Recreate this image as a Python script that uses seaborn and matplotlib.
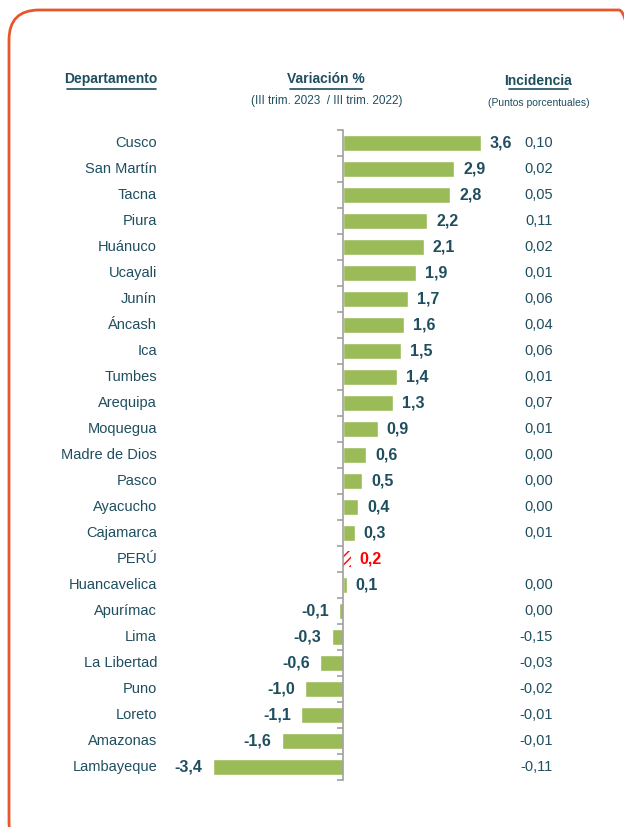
import pandas as pd
import seaborn as sns
import matplotlib.pyplot as plt
import matplotlib.patches as mpatches
import matplotlib.transforms as mtransforms

departamentos = ["Cusco", "San Martín", "Tacna", "Piura", "Huánuco", "Ucayali", "Junín",
                 "Áncash", "Ica", "Tumbes", "Arequipa", "Moquegua", "Madre de Dios", "Pasco",
                 "Ayacucho", "Cajamarca", "PERÚ", "Huancavelica", "Apurímac", "Lima",
                 "La Libertad", "Puno", "Loreto", "Amazonas", "Lambayeque"]
variacion = [3.6, 2.9, 2.8, 2.2, 2.1, 1.9, 1.7, 1.6, 1.5, 1.4, 1.3, 0.9, 0.6, 0.5,
             0.4, 0.3, 0.2, 0.1, -0.1, -0.3, -0.6, -1.0, -1.1, -1.6, -3.4]
incidencia = ["0,10", "0,02", "0,05", "0,11", "0,02", "0,01", "0,06", "0,04", "0,06", "0,01",
              "0,07", "0,01", "0,00", "0,00", "0,00", "0,01", "", "0,00", "0,00", "-0,15",
              "-0,03", "-0,02", "-0,01", "-0,01", "-0,11"]

df = pd.DataFrame({"dep": departamentos, "var": variacion})

sns.set_style("white")
plt.rcParams["font.family"] = ["Liberation Sans", "DejaVu Sans"]

teal = "#1f4e5f"
green = "#9bbb59"

fig = plt.figure(figsize=(6.24, 8.27), dpi=100)
ax = fig.add_axes([159 / 624, 1 - 780 / 827, (573 - 159) / 624, 650 / 827])

sns.barplot(data=df, y="dep", x="var", orient="h", color=green, width=0.62,
            saturation=1, ax=ax)

# PERÚ bar: red hatch
peru = departamentos.index("PERÚ")
p = ax.patches[peru]
p.set_facecolor("white")
p.set_edgecolor("red")
p.set_hatch("////")
p.set_linewidth(0)

ax.set_xlim(-4.8, 6.0)
ax.set_ylim(len(departamentos) - 0.5, -0.5)
ax.set_xlabel("")
ax.set_ylabel("")
ax.set_xticks([])
for s in ["top", "right", "bottom"]:
    ax.spines[s].set_visible(False)
ax.spines["left"].set_position(("data", 0))
ax.spines["left"].set_color("#a0a0a0")
ax.spines["left"].set_linewidth(1.2)
ax.set_yticks([i - 0.5 for i in range(len(departamentos) + 1)])
ax.set_yticklabels([])
ax.tick_params(axis="y", left=True, direction="out", length=4, color="#a0a0a0", width=1.2)

px = 1 / 38.3  # data units per pixel
fig_y = mtransforms.blended_transform_factory(fig.transFigure, ax.transData)

for i, (d, v, inc) in enumerate(zip(departamentos, variacion, incidencia)):
    col = "red" if d == "PERÚ" else teal
    ax.text(157 / 624, i, d, transform=fig_y, ha="right", va="center",
            fontsize=10.5, color=teal)
    lab = f"{v:.1f}".replace(".", ",")
    if v >= 0:
        ax.text(v + 9 * px, i, lab, ha="left", va="center", fontsize=11.5,
                fontweight="bold", color=col)
    else:
        ax.text(v - 10 * px, i, lab, ha="right", va="center", fontsize=11.5,
                fontweight="bold", color=col)
    if inc:
        ax.text(553 / 624, i, inc, transform=fig_y, ha="right", va="center",
                fontsize=10.5, color=teal)

# headers
def header(x, y, s, x0, x1):
    fig.text(x / 624, 1 - y / 827, s, ha="center", va="center", fontsize=10,
             fontweight="bold", color=teal)
    fig.add_artist(plt.Line2D([x0 / 624, x1 / 624], [1 - 89 / 827, 1 - 89 / 827],
                              color=teal, lw=1.2))

header(111, 79, "Departamento", 67, 156)
header(326, 79, "Variación %", 290, 362)
header(538, 81, "Incidencia", 509, 568)
fig.text(327 / 624, 1 - 101 / 827, "(III trim. 2023  / III trim. 2022)", ha="center",
         va="center", fontsize=8.5, color=teal)
fig.text(539 / 624, 1 - 103 / 827, "(Puntos porcentuales)", ha="center",
         va="center", fontsize=7.5, color=teal)

# orange rounded frame (right and bottom edges run off the picture)
frame = mpatches.FancyBboxPatch((9, -25), 640, 827 - 10 + 25,
                                boxstyle="round,pad=0,rounding_size=30",
                                transform=mtransforms.IdentityTransform(),
                                facecolor="none", edgecolor="#e8572a", lw=2)
fig.add_artist(frame)

plt.savefig("out.png", dpi=100)
